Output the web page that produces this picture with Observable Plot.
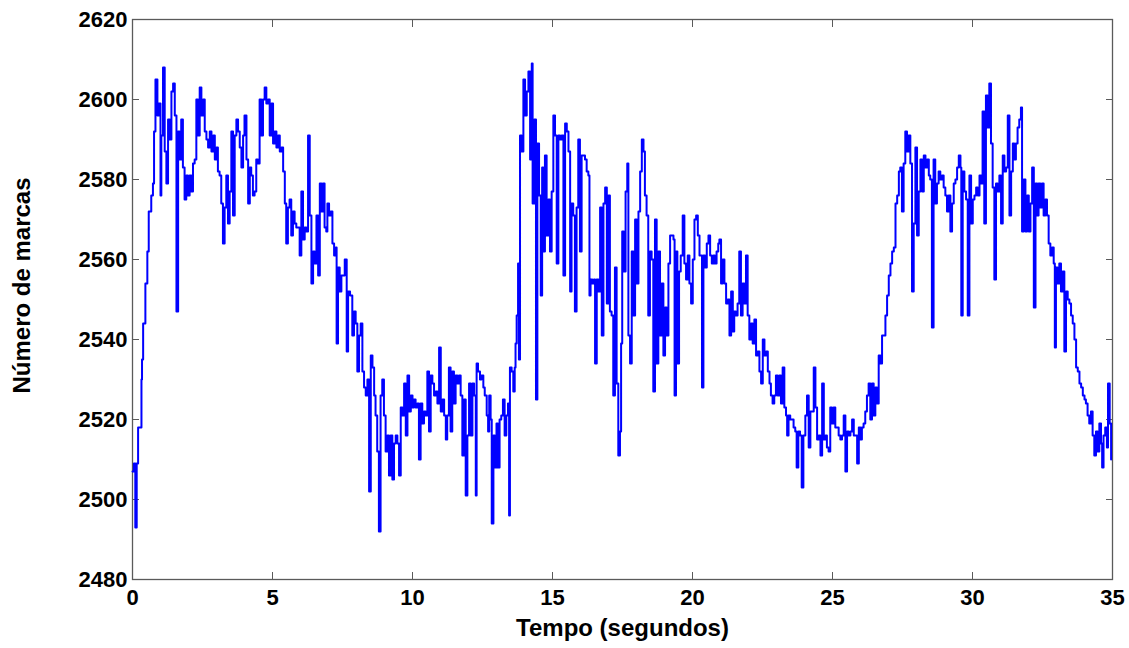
<!DOCTYPE html>
<html>
<head>
<meta charset="utf-8">
<script src="https://cdn.jsdelivr.net/npm/d3@7"></script>
<script src="https://cdn.jsdelivr.net/npm/@observablehq/plot@0.6"></script>
<style>
  html, body { margin: 0; padding: 0; background: #ffffff; }
  #chart svg { font-family: "Liberation Sans", Arial, sans-serif; }
</style>
</head>
<body>
<div id="chart"></div>
<script>
// Time (seconds) and "Número de marcas" values
const tempo = [
0.00,0.05,0.10,0.15,0.20,0.32,0.34,0.38,0.46,0.53,0.58,0.67,0.73,0.77,0.82,0.89,0.94,1.00,1.03,1.09,
1.15,1.21,1.27,1.33,1.39,1.45,1.51,1.57,1.63,1.68,1.74,1.80,1.86,1.92,1.98,2.04,2.10,2.16,2.22,2.28,
2.34,2.40,2.46,2.52,2.58,2.64,2.70,2.76,2.82,2.88,2.94,3.00,3.05,3.11,3.17,3.23,3.29,3.35,3.41,3.47,
3.53,3.59,3.65,3.71,3.77,3.83,3.89,3.95,4.00,4.07,4.13,4.19,4.24,4.30,4.36,4.42,4.48,4.54,4.60,4.66,
4.72,4.78,4.84,4.90,4.96,5.02,5.08,5.14,5.20,5.26,5.32,5.38,5.44,5.49,5.55,5.61,5.67,5.73,5.79,5.85,
5.91,5.97,6.03,6.09,6.15,6.21,6.27,6.33,6.39,6.45,6.51,6.57,6.63,6.69,6.75,6.80,6.86,6.92,6.96,7.02,
7.08,7.14,7.20,7.26,7.29,7.34,7.40,7.46,7.53,7.58,7.65,7.70,7.77,7.85,7.91,7.97,8.03,8.09,8.15,8.21,
8.27,8.33,8.39,8.45,8.51,8.57,8.63,8.68,8.74,8.80,8.86,8.92,8.98,9.04,9.10,9.16,9.22,9.28,9.34,9.40,
9.46,9.52,9.58,9.64,9.70,9.76,9.82,9.88,9.94,10.00,10.05,10.11,10.17,10.23,10.29,10.35,10.41,10.47,10.53,10.59,
10.65,10.71,10.77,10.83,10.89,10.95,11.01,11.07,11.13,11.19,11.24,11.30,11.36,11.42,11.48,11.54,11.60,11.66,11.72,11.78,
11.84,11.90,11.96,12.02,12.08,12.14,12.20,12.26,12.29,12.34,12.41,12.46,12.53,12.58,12.65,12.70,12.74,12.79,12.83,12.89,
12.94,13.00,13.05,13.11,13.17,13.23,13.29,13.35,13.41,13.45,13.48,13.54,13.60,13.65,13.68,13.72,13.77,13.80,13.84,13.86,
13.90,13.96,14.02,14.08,14.14,14.20,14.26,14.29,14.35,14.41,14.46,14.52,14.58,14.63,14.67,14.73,14.79,14.85,14.91,14.97,
15.03,15.09,15.15,15.21,15.27,15.33,15.39,15.45,15.51,15.57,15.63,15.68,15.74,15.80,15.86,15.92,15.98,16.04,16.10,16.16,
16.22,16.28,16.32,16.36,16.42,16.48,16.52,16.58,16.64,16.70,16.76,16.82,16.88,16.94,17.00,17.05,17.11,17.17,17.23,17.29,
17.35,17.41,17.45,17.49,17.55,17.61,17.67,17.71,17.77,17.83,17.89,17.95,18.01,18.07,18.13,18.19,18.25,18.30,18.36,18.42,
18.48,18.54,18.60,18.66,18.72,18.78,18.84,18.90,18.96,19.02,19.08,19.14,19.20,19.26,19.32,19.36,19.41,19.46,19.52,19.58,
19.65,19.71,19.77,19.83,19.89,19.95,20.01,20.07,20.13,20.19,20.25,20.29,20.34,20.39,20.45,20.51,20.57,20.63,20.69,20.75,
20.80,20.86,20.92,20.96,21.02,21.08,21.14,21.20,21.26,21.32,21.38,21.44,21.49,21.55,21.61,21.67,21.73,21.79,21.85,21.91,
21.97,22.03,22.09,22.15,22.21,22.27,22.33,22.39,22.45,22.51,22.57,22.63,22.69,22.75,22.80,22.86,22.92,22.98,23.04,23.10,
23.16,23.22,23.28,23.34,23.38,23.43,23.49,23.55,23.61,23.67,23.72,23.78,23.84,23.90,23.96,24.03,24.09,24.15,24.21,24.27,
24.33,24.39,24.45,24.51,24.57,24.63,24.69,24.75,24.80,24.86,24.92,24.98,25.04,25.10,25.16,25.22,25.28,25.34,25.40,25.46,
25.52,25.58,25.64,25.70,25.76,25.82,25.88,25.94,26.00,26.05,26.11,26.17,26.23,26.29,26.35,26.41,26.47,26.53,26.59,26.65,
26.71,26.77,26.83,26.89,26.95,27.01,27.07,27.13,27.19,27.25,27.31,27.37,27.42,27.48,27.54,27.60,27.66,27.72,27.78,27.84,
27.90,27.96,28.02,28.08,28.14,28.20,28.26,28.32,28.38,28.44,28.49,28.55,28.61,28.67,28.73,28.79,28.85,28.91,28.97,29.03,
29.09,29.15,29.21,29.27,29.33,29.39,29.45,29.51,29.57,29.60,29.65,29.71,29.77,29.83,29.89,29.95,30.01,30.07,30.13,30.19,
30.25,30.31,30.36,30.42,30.48,30.54,30.60,30.66,30.72,30.78,30.84,30.90,30.96,31.02,31.08,31.14,31.20,31.26,31.32,31.38,
31.44,31.49,31.55,31.61,31.67,31.73,31.77,31.83,31.89,31.95,32.01,32.07,32.13,32.19,32.25,32.31,32.36,32.42,32.48,32.54,
32.60,32.66,32.72,32.78,32.84,32.90,32.94,32.98,33.04,33.10,33.16,33.22,33.28,33.34,33.40,33.46,33.52,33.58,33.64,33.70,
33.76,33.82,33.88,33.94,34.00,34.05,34.11,34.17,34.23,34.29,34.35,34.41,34.47,34.53,34.59,34.63,34.68,34.74,34.80,34.84,
34.90,34.95
];
const marcas = [
2507,2509,2493,2509,2518,2530,2535,2544,2554,2562,2572,2576,2579,2592,2605,2596,2599,2576,2591,2608,
2587,2579,2595,2590,2602,2604,2596,2547,2592,2585,2595,2583,2575,2581,2576,2581,2577,2584,2585,2600,
2591,2603,2596,2600,2592,2590,2588,2592,2587,2591,2585,2588,2582,2581,2574,2564,2573,2581,2569,2577,
2592,2571,2591,2595,2592,2588,2583,2591,2596,2585,2574,2583,2581,2576,2577,2585,2584,2600,2591,2600,
2603,2599,2600,2591,2599,2589,2592,2588,2591,2587,2588,2582,2574,2564,2573,2575,2566,2572,2569,2568,
2568,2561,2577,2565,2568,2567,2591,2571,2554,2562,2559,2571,2556,2579,2572,2579,2568,2567,2574,2571,
2572,2564,2561,2563,2539,2558,2552,2556,2556,2560,2537,2552,2551,2541,2547,2544,2532,2541,2544,2532,
2528,2526,2530,2502,2536,2533,2526,2521,2512,2492,2526,2530,2521,2512,2516,2506,2516,2505,2514,2516,
2514,2506,2523,2521,2529,2516,2531,2522,2526,2523,2525,2523,2524,2510,2524,2519,2522,2521,2532,2517,
2531,2529,2526,2527,2524,2538,2522,2525,2521,2515,2521,2533,2517,2532,2524,2531,2529,2531,2526,2511,
2525,2501,2516,2529,2516,2529,2526,2501,2534,2532,2530,2531,2528,2526,2521,2517,2526,2520,2494,2516,
2508,2519,2508,2520,2521,2525,2516,2521,2524,2496,2533,2532,2527,2533,2539,2546,2559,2535,2591,2591,
2587,2605,2596,2602,2607,2585,2609,2574,2595,2525,2589,2576,2551,2583,2562,2586,2566,2575,2562,2577,
2596,2591,2559,2591,2590,2591,2556,2594,2592,2587,2552,2574,2571,2547,2573,2590,2562,2586,2586,2585,
2582,2581,2551,2555,2554,2555,2534,2555,2552,2573,2541,2574,2578,2549,2576,2547,2546,2526,2558,2529,
2511,2517,2539,2567,2557,2577,2584,2541,2534,2562,2546,2570,2554,2572,2582,2590,2587,2576,2571,2546,
2562,2560,2527,2570,2534,2562,2541,2554,2536,2548,2541,2559,2566,2566,2565,2526,2562,2534,2557,2561,
2571,2559,2555,2561,2554,2549,2560,2570,2571,2566,2561,2561,2528,2561,2558,2564,2566,2561,2559,2561,
2559,2562,2564,2565,2554,2560,2554,2549,2550,2541,2552,2542,2547,2546,2549,2562,2546,2554,2549,2561,
2546,2540,2544,2539,2545,2536,2537,2532,2529,2540,2536,2537,2532,2529,2526,2524,2526,2531,2526,2531,
2524,2533,2523,2521,2516,2521,2520,2520,2518,2517,2508,2517,2516,2503,2516,2521,2526,2513,2522,2522,
2533,2523,2515,2516,2511,2529,2515,2516,2513,2512,2523,2519,2523,2518,2518,2516,2515,2516,2521,2507,
2517,2516,2517,2520,2516,2516,2509,2518,2515,2518,2519,2522,2526,2529,2520,2529,2521,2528,2524,2536,
2534,2541,2541,2546,2551,2556,2559,2562,2563,2574,2576,2582,2583,2572,2584,2592,2587,2591,2584,2552,
2569,2588,2566,2577,2585,2577,2586,2583,2585,2581,2580,2543,2585,2574,2579,2582,2580,2581,2578,2576,
2572,2576,2567,2574,2579,2580,2583,2586,2583,2546,2582,2577,2575,2546,2581,2569,2575,2576,2578,2576,
2581,2579,2597,2569,2601,2593,2604,2589,2578,2555,2579,2577,2581,2569,2586,2582,2583,2596,2571,2582,
2589,2585,2589,2593,2595,2598,2567,2580,2567,2576,2567,2574,2583,2548,2579,2571,2579,2573,2579,2571,
2575,2571,2564,2561,2563,2559,2538,2558,2554,2559,2552,2557,2537,2552,2550,2549,2546,2544,2540,2533,
2532,2529,2528,2526,2525,2524,2521,2519,2522,2516,2511,2517,2512,2519,2514,2508,2516,2518,2513,2529,
2519,2510
];

const xTicks = [0, 5, 10, 15, 20, 25, 30, 35];
const yTicks = [2480, 2500, 2520, 2540, 2560, 2580, 2600, 2620];

const data = tempo.map((t, i) => ({t, v: marcas[i]}));

const plot = Plot.plot({
  width: 1129,
  height: 648,
  marginTop: 19,
  marginBottom: 69,
  marginLeft: 132,
  marginRight: 17,
  style: {background: "#ffffff", fontFamily: "Liberation Sans, Arial, sans-serif", fontSize: "22px", fontWeight: "bold", color: "#000"},
  x: {domain: [0, 35]},
  y: {domain: [2480, 2620]},
  marks: [
    Plot.frame({stroke: "#5a5a5a", strokeWidth: 1.3}),
    Plot.axisX({anchor: "bottom", ticks: xTicks, tickSize: -7, tickPadding: 17, tickFormat: d => String(d), label: null, stroke: "#5a5a5a", fontSize: 22, fontWeight: "bold"}),
    Plot.axisX({anchor: "top", ticks: xTicks, tickSize: -7, tickFormat: () => "", label: null, stroke: "#5a5a5a"}),
    Plot.axisY({anchor: "left", ticks: yTicks, tickSize: -7, tickPadding: 12, tickFormat: d => String(d), label: null, stroke: "#5a5a5a", fontSize: 22, fontWeight: "bold"}),
    Plot.axisY({anchor: "right", ticks: yTicks, tickSize: -7, tickFormat: () => "", label: null, stroke: "#5a5a5a"}),
    Plot.line(data, {x: "t", y: "v", stroke: "#0000ff", strokeWidth: 2, curve: "step-after"}),
    Plot.text(["Tempo (segundos)"], {frameAnchor: "bottom", dy: 56, text: d => d, fontSize: 24, fontWeight: "bold", fill: "#000"}),
    Plot.text(["Número de marcas"], {frameAnchor: "left", textAnchor: "middle", dx: -110, dy: -14, rotate: -90, text: d => d, fontSize: 24, fontWeight: "bold", fill: "#000"})
  ]
});
document.getElementById("chart").appendChild(plot);
</script>
</body>
</html>
